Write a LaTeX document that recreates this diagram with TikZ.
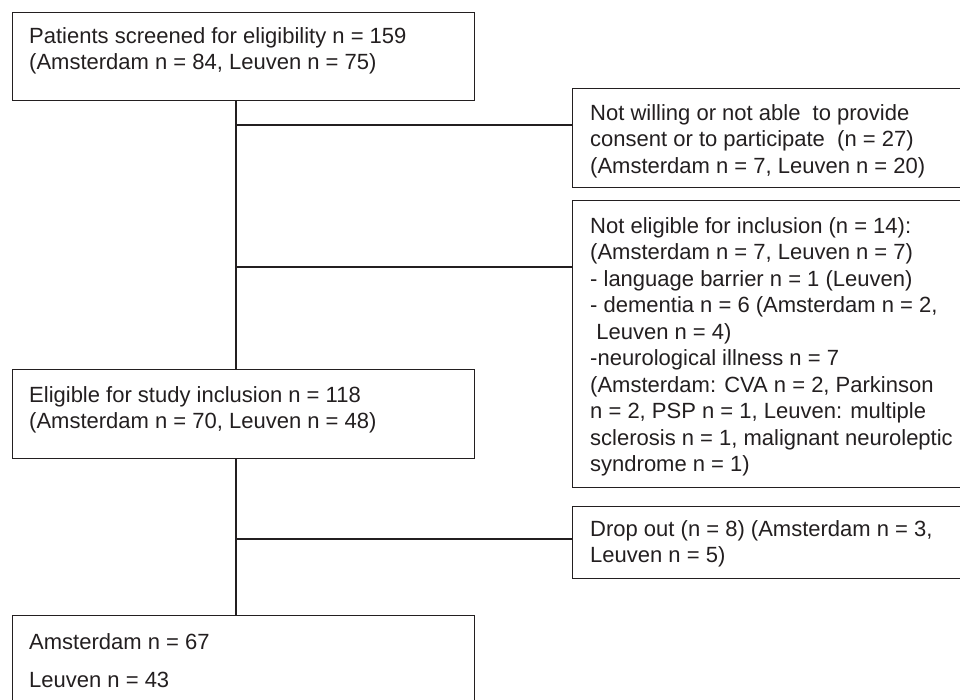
\documentclass[tikz,border=0pt]{standalone}
\usepackage{fontspec}
\setmainfont{Liberation Sans}
\usetikzlibrary{positioning}
\definecolor{inkline}{RGB}{35,31,32}
\tikzset{
  box/.style={rectangle, draw=inkline, line width=1.2pt,
    anchor=north west, inner sep=0pt},
  txt/.style={anchor=north west, align=left, inner sep=0pt,
    text=inkline, font=\fontsize{22}{26.5}\selectfont},
  link/.style={draw=inkline, line width=1.2pt}
}

\begin{document}
\begin{tikzpicture}[x=1pt, y=-1pt]
  \useasboundingbox (0,0) rectangle (960,700);
  \clip (0,0) rectangle (960,700);

  % main column
  \node[box, minimum width=462pt, minimum height=88pt]  (scr)   at (12,12)  {};
  \node[box, minimum width=462pt, minimum height=89pt]  (elig)  at (12,369) {};
  \node[box, minimum width=462pt, minimum height=110pt] (final) at (12,615) {};
  % side boxes, running off the right edge
  \node[box, minimum width=420pt, minimum height=99pt]  (nowill) at (572,88)  {};
  \node[box, minimum width=420pt, minimum height=287pt] (noelig) at (572,200) {};
  \node[box, minimum width=420pt, minimum height=72pt]  (drop)   at (572,506) {};

  \node[txt, below right=15pt and 17pt of scr.north west] (scr-t)
    {Patients screened for eligibility n = 159\\
     (Amsterdam n = 84, Leuven n = 75)};
  \node[txt, below right=16pt and 18pt of nowill.north west] (nowill-t)
    {Not willing or not able\ \ to provide\\
     consent or to participate\ \ (n = 27)\\
     (Amsterdam n = 7, Leuven n = 20)};
  \node[txt, below right=17pt and 18pt of noelig.north west] (noelig-t)
    {Not eligible for inclusion (n = 14):\\
     (Amsterdam n = 7, Leuven n = 7)\\
     - language barrier n = 1 (Leuven)\\
     - dementia n = 6 (Amsterdam n = 2,\\
     \hspace*{0.28em}Leuven n = 4)\\
     -neurological illness n = 7\\
     (Amsterdam: CVA n = 2, Parkinson\\
     n = 2, PSP n = 1, Leuven: multiple\\
     sclerosis n = 1, malignant neuroleptic\\
     syndrome n = 1)};
  \node[txt, below right=17pt and 17pt of elig.north west] (elig-t)
    {Eligible for study inclusion n = 118\\
     (Amsterdam n = 70, Leuven n = 48)};
  \node[txt, below right=14pt and 18pt of drop.north west] (drop-t)
    {Drop out (n = 8) (Amsterdam n = 3,\\
     Leuven n = 5)};
  \node[txt, below right=18pt and 17pt of final.north west] (final-t)
    {Amsterdam n = 67\\[11.5pt]
     Leuven n = 43};

  % trunk and branches
  \coordinate (j1) at (236,125);
  \coordinate (j2) at (236,267);
  \coordinate (j3) at (236,539);
  \draw[link] (j1 |- scr.south)  -- (j1 |- elig.north);
  \draw[link] (j3 |- elig.south) -- (j3 |- final.north);
  \draw[link] (j1) -- (j1 -| nowill.west);
  \draw[link] (j2) -- (j2 -| noelig.west);
  \draw[link] (j3) -- (j3 -| drop.west);
\end{tikzpicture}
\end{document}
